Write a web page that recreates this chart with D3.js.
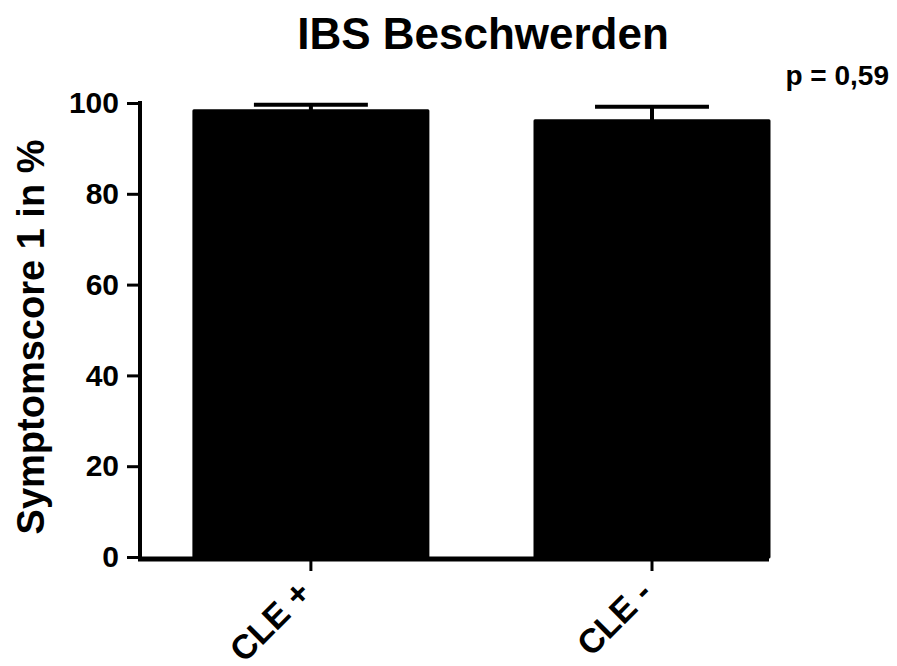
<!DOCTYPE html>
<html>
<head>
<meta charset="utf-8">
<script src="https://cdn.jsdelivr.net/npm/d3@7"></script>
<style>
  body { margin: 0; background: #fff; }
  text { font-family: "Liberation Sans", Arial, sans-serif; font-weight: bold; fill: #000; }
</style>
</head>
<body>
<div id="chart"></div>
<script>
// data
const categories = ["CLE +", "CLE -"];
const means = [98.3, 96.1];
const errors = [1.3, 3.1];
const yTicks = [0, 20, 40, 60, 80, 100];
const title = "IBS Beschwerden";
const yLabel = "Symptomscore 1 in %";
const pText = "p = 0,59";

const width = 897, height = 666;
const plotLeft = 140, plotRight = 769, plotTop = 103, plotBottom = 557;

const svg = d3.select("#chart").append("svg")
  .attr("width", width)
  .attr("height", height);

const x = d3.scaleBand()
  .domain(categories)
  .range([plotLeft, plotRight])
  .paddingInner(0.314)
  .paddingOuter(0.079)
  .align(1);

const y = d3.scaleLinear()
  .domain([0, 100])
  .range([plotBottom, plotTop]);

// bars
svg.selectAll("rect.bar")
  .data(categories)
  .enter().append("rect")
    .attr("class", "bar")
    .attr("x", d => x(d))
    .attr("width", x.bandwidth())
    .attr("y", (d, i) => y(means[i]))
    .attr("height", (d, i) => y(0) - y(means[i]))
    .attr("fill", "#000")
    .attr("stroke", "#000")
    .attr("stroke-width", 3)
    .attr("stroke-linejoin", "round");

// error bars (upper only)
const capW = x.bandwidth() * 0.487;
categories.forEach((c, i) => {
  const cx = x(c) + x.bandwidth() / 2;
  svg.append("line")
    .attr("x1", cx).attr("x2", cx)
    .attr("y1", y(means[i])).attr("y2", y(means[i] + errors[i]))
    .attr("stroke", "#000").attr("stroke-width", 4);
  svg.append("line")
    .attr("x1", cx - capW / 2).attr("x2", cx + capW / 2)
    .attr("y1", y(means[i] + errors[i])).attr("y2", y(means[i] + errors[i]))
    .attr("stroke", "#000").attr("stroke-width", 4);
});

// y axis
const yAxis = d3.axisLeft(y)
  .tickValues(yTicks)
  .tickSize(13)
  .tickSizeOuter(0)
  .tickPadding(8);

const gy = svg.append("g")
  .attr("transform", "translate(" + plotLeft + ",0)")
  .call(yAxis);
gy.attr("font-family", null).attr("font-size", null);
gy.select(".domain").attr("stroke-width", 4).attr("d", "M0," + (plotBottom + 2) + "V" + (plotTop - 2));
gy.selectAll(".tick line").attr("stroke-width", 3);
gy.selectAll(".tick text").style("font-size", "30px");

// x axis
const xAxis = d3.axisBottom(x)
  .tickSize(12)
  .tickSizeOuter(0)
  .tickFormat("");

const gx = svg.append("g")
  .attr("transform", "translate(0," + (plotBottom + 2) + ")")
  .call(xAxis);
gx.select(".domain").attr("stroke-width", 5).attr("d", "M" + (plotLeft - 2) + ",0H" + plotRight);
gx.selectAll(".tick line").attr("stroke-width", 3);

// rotated category labels
svg.selectAll("text.xlab")
  .data(categories)
  .enter().append("text")
    .attr("class", "xlab")
    .attr("transform", d => "translate(" + (x(d) + x.bandwidth() / 2 + 2) + "," + (plotBottom + 38) + ") rotate(-45)")
    .attr("text-anchor", "end")
    .style("font-size", "34px")
    .text(d => d);

// title
svg.append("text")
  .attr("x", 483).attr("y", 49)
  .attr("text-anchor", "middle")
  .style("font-size", "44px")
  .text(title);

// y label
svg.append("text")
  .attr("transform", "translate(44,337) rotate(-90)")
  .attr("text-anchor", "middle")
  .style("font-size", "38px")
  .text(yLabel);

// p value
svg.append("text")
  .attr("x", 889).attr("y", 85)
  .attr("text-anchor", "end")
  .style("font-size", "28px")
  .text(pText);
</script>
</body>
</html>
